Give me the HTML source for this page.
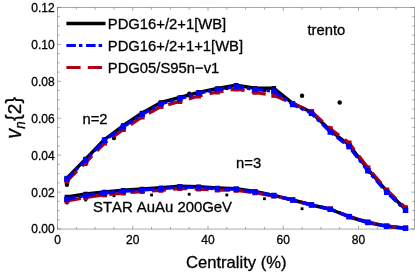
<!DOCTYPE html><html><head><meta charset="utf-8"><style>html,body{margin:0;padding:0;background:#fff}svg{display:block;will-change:transform}text{font-family:"Liberation Sans",sans-serif;fill:#000;font-kerning:none;stroke:#000;stroke-width:0.3px}</style></head><body>
<svg width="415" height="273" viewBox="0 0 415 273">
<rect width="415" height="273" fill="#fff"/>
<rect x="57.5" y="7.45" width="357.0" height="221.60000000000002" fill="none" stroke="#707070" stroke-width="0.6"/>
<path d="M57.50 229.05v-3.4M57.50 7.45v3.4M76.31 229.05v-2.2M76.31 7.45v2.2M95.12 229.05v-2.2M95.12 7.45v2.2M113.94 229.05v-2.2M113.94 7.45v2.2M132.75 229.05v-3.4M132.75 7.45v3.4M151.56 229.05v-2.2M151.56 7.45v2.2M170.38 229.05v-2.2M170.38 7.45v2.2M189.19 229.05v-2.2M189.19 7.45v2.2M208.00 229.05v-3.4M208.00 7.45v3.4M226.81 229.05v-2.2M226.81 7.45v2.2M245.62 229.05v-2.2M245.62 7.45v2.2M264.44 229.05v-2.2M264.44 7.45v2.2M283.25 229.05v-3.4M283.25 7.45v3.4M302.06 229.05v-2.2M302.06 7.45v2.2M320.88 229.05v-2.2M320.88 7.45v2.2M339.69 229.05v-2.2M339.69 7.45v2.2M358.50 229.05v-3.4M358.50 7.45v3.4M377.31 229.05v-2.2M377.31 7.45v2.2M396.12 229.05v-2.2M396.12 7.45v2.2M57.5 229.05h3.4M414.5 229.05h-3.4M57.5 219.82h2.2M414.5 219.82h-2.2M57.5 210.58h2.2M414.5 210.58h-2.2M57.5 201.35h2.2M414.5 201.35h-2.2M57.5 192.12h3.4M414.5 192.12h-3.4M57.5 182.88h2.2M414.5 182.88h-2.2M57.5 173.65h2.2M414.5 173.65h-2.2M57.5 164.42h2.2M414.5 164.42h-2.2M57.5 155.18h3.4M414.5 155.18h-3.4M57.5 145.95h2.2M414.5 145.95h-2.2M57.5 136.72h2.2M414.5 136.72h-2.2M57.5 127.48h2.2M414.5 127.48h-2.2M57.5 118.25h3.4M414.5 118.25h-3.4M57.5 109.02h2.2M414.5 109.02h-2.2M57.5 99.78h2.2M414.5 99.78h-2.2M57.5 90.55h2.2M414.5 90.55h-2.2M57.5 81.32h3.4M414.5 81.32h-3.4M57.5 72.08h2.2M414.5 72.08h-2.2M57.5 62.85h2.2M414.5 62.85h-2.2M57.5 53.62h2.2M414.5 53.62h-2.2M57.5 44.38h3.4M414.5 44.38h-3.4M57.5 35.15h2.2M414.5 35.15h-2.2M57.5 25.92h2.2M414.5 25.92h-2.2M57.5 16.68h2.2M414.5 16.68h-2.2M57.5 7.45h3.4M414.5 7.45h-3.4" stroke="#707070" stroke-width="0.6" fill="none"/>
<text x="54.6" y="233.45" font-size="12" text-anchor="end">0.00</text>
<text x="54.6" y="196.52" font-size="12" text-anchor="end">0.02</text>
<text x="54.6" y="159.58" font-size="12" text-anchor="end">0.04</text>
<text x="54.6" y="122.65" font-size="12" text-anchor="end">0.06</text>
<text x="54.6" y="85.72" font-size="12" text-anchor="end">0.08</text>
<text x="54.6" y="48.78" font-size="12" text-anchor="end">0.10</text>
<text x="54.6" y="11.85" font-size="12" text-anchor="end">0.12</text>
<text x="57.50" y="243.7" font-size="12" text-anchor="middle">0</text>
<text x="132.75" y="243.7" font-size="12" text-anchor="middle">20</text>
<text x="208.00" y="243.7" font-size="12" text-anchor="middle">40</text>
<text x="283.25" y="243.7" font-size="12" text-anchor="middle">60</text>
<text x="358.50" y="243.7" font-size="12" text-anchor="middle">80</text>
<circle cx="66.91" cy="184.8" r="2.2" fill="#000"/>
<circle cx="85.72" cy="163.9" r="2.2" fill="#000"/>
<circle cx="113.94" cy="138" r="2.2" fill="#000"/>
<circle cx="151.56" cy="110.75" r="2.2" fill="#000"/>
<circle cx="189.19" cy="93.75" r="2.2" fill="#000"/>
<circle cx="226.81" cy="88" r="2.2" fill="#000"/>
<circle cx="264.44" cy="90" r="2.2" fill="#000"/>
<circle cx="302.06" cy="95.75" r="2.2" fill="#000"/>
<circle cx="339.69" cy="102.5" r="2.2" fill="#000"/>
<rect x="65.51" y="201.6" width="2.8" height="2.8" fill="#000"/>
<rect x="84.32" y="198.6" width="2.8" height="2.8" fill="#000"/>
<rect x="112.54" y="194.35" width="2.8" height="2.8" fill="#000"/>
<rect x="150.16" y="193.6" width="2.8" height="2.8" fill="#000"/>
<rect x="187.79" y="192.85" width="2.8" height="2.8" fill="#000"/>
<rect x="225.41" y="193.6" width="2.8" height="2.8" fill="#000"/>
<rect x="263.04" y="197.35" width="2.8" height="2.8" fill="#000"/>
<rect x="300.66" y="207.35" width="2.8" height="2.8" fill="#000"/>
<rect x="338.29" y="211.1" width="2.8" height="2.8" fill="#000"/>
<polyline points="66.91,178.10 85.72,159.00 104.53,139.50 123.34,125.50 142.16,113.00 160.97,102.50 179.78,97.50 198.59,92.30 217.41,88.50 236.22,85.30 255.03,88.30 273.84,88.30 292.66,103.30 311.47,112.20 330.28,130.50 349.09,145.00 367.91,169.30 386.72,191.00 405.53,209.30" fill="none" stroke="#000" stroke-width="3.4" stroke-linejoin="round"/>
<rect x="64.66" y="175.85" width="4.5" height="4.5" fill="#000"/><rect x="83.47" y="156.75" width="4.5" height="4.5" fill="#000"/><rect x="102.28" y="137.25" width="4.5" height="4.5" fill="#000"/><rect x="121.09" y="123.25" width="4.5" height="4.5" fill="#000"/><rect x="139.91" y="110.75" width="4.5" height="4.5" fill="#000"/><rect x="158.72" y="100.25" width="4.5" height="4.5" fill="#000"/><rect x="177.53" y="95.25" width="4.5" height="4.5" fill="#000"/><rect x="196.34" y="90.05" width="4.5" height="4.5" fill="#000"/><rect x="215.16" y="86.25" width="4.5" height="4.5" fill="#000"/><rect x="233.97" y="83.05" width="4.5" height="4.5" fill="#000"/><rect x="252.78" y="86.05" width="4.5" height="4.5" fill="#000"/><rect x="271.59" y="86.05" width="4.5" height="4.5" fill="#000"/><rect x="290.41" y="101.05" width="4.5" height="4.5" fill="#000"/><rect x="309.22" y="109.95" width="4.5" height="4.5" fill="#000"/><rect x="328.03" y="128.25" width="4.5" height="4.5" fill="#000"/><rect x="346.84" y="142.75" width="4.5" height="4.5" fill="#000"/><rect x="365.66" y="167.05" width="4.5" height="4.5" fill="#000"/><rect x="384.47" y="188.75" width="4.5" height="4.5" fill="#000"/><rect x="403.28" y="207.05" width="4.5" height="4.5" fill="#000"/>
<polyline points="66.91,181.20 85.72,162.50 104.53,143.00 123.34,129.50 142.16,117.00 160.97,106.50 179.78,101.50 198.59,96.00 217.41,92.00 236.22,89.00 255.03,92.30 273.84,95.30 292.66,103.50 311.47,111.50 330.28,128.70 349.09,143.00 367.91,167.90 386.72,190.00 405.53,207.80" fill="none" stroke="#AD0010" stroke-width="3.3" stroke-dasharray="14.2 7.2" stroke-linejoin="round"/>
<rect x="64.41" y="178.70" width="5" height="5" fill="#AD0010"/><rect x="83.22" y="160.00" width="5" height="5" fill="#AD0010"/><rect x="102.03" y="140.50" width="5" height="5" fill="#AD0010"/><rect x="120.84" y="127.00" width="5" height="5" fill="#AD0010"/><rect x="139.66" y="114.50" width="5" height="5" fill="#AD0010"/><rect x="158.47" y="104.00" width="5" height="5" fill="#AD0010"/><rect x="177.28" y="99.00" width="5" height="5" fill="#AD0010"/><rect x="196.09" y="93.50" width="5" height="5" fill="#AD0010"/><rect x="214.91" y="89.50" width="5" height="5" fill="#AD0010"/><rect x="233.72" y="86.50" width="5" height="5" fill="#AD0010"/><rect x="252.53" y="89.80" width="5" height="5" fill="#AD0010"/><rect x="271.34" y="92.80" width="5" height="5" fill="#AD0010"/><rect x="290.16" y="101.00" width="5" height="5" fill="#AD0010"/><rect x="308.97" y="109.00" width="5" height="5" fill="#AD0010"/><rect x="327.78" y="126.20" width="5" height="5" fill="#AD0010"/><rect x="346.59" y="140.50" width="5" height="5" fill="#AD0010"/><rect x="365.41" y="165.40" width="5" height="5" fill="#AD0010"/><rect x="384.22" y="187.50" width="5" height="5" fill="#AD0010"/><rect x="403.03" y="205.30" width="5" height="5" fill="#AD0010"/>
<polyline points="66.91,179.10 85.72,160.00 104.53,140.50 123.34,126.75 142.16,114.25 160.97,103.75 179.78,98.75 198.59,93.25 217.41,89.50 236.22,86.50 255.03,89.50 273.84,91.10 292.66,104.50 311.47,113.30 330.28,132.00 349.09,146.60 367.91,170.80 386.72,192.30 405.53,210.30" fill="none" stroke="#0000FF" stroke-width="3.3" stroke-dasharray="9.5 3 3.5 3.7" stroke-linejoin="round"/>
<rect x="64.16" y="176.35" width="5.5" height="5.5" fill="#0000FF"/><rect x="82.97" y="157.25" width="5.5" height="5.5" fill="#0000FF"/><rect x="101.78" y="137.75" width="5.5" height="5.5" fill="#0000FF"/><rect x="120.59" y="124.00" width="5.5" height="5.5" fill="#0000FF"/><rect x="139.41" y="111.50" width="5.5" height="5.5" fill="#0000FF"/><rect x="158.22" y="101.00" width="5.5" height="5.5" fill="#0000FF"/><rect x="177.03" y="96.00" width="5.5" height="5.5" fill="#0000FF"/><rect x="195.84" y="90.50" width="5.5" height="5.5" fill="#0000FF"/><rect x="214.66" y="86.75" width="5.5" height="5.5" fill="#0000FF"/><rect x="233.47" y="83.75" width="5.5" height="5.5" fill="#0000FF"/><rect x="252.28" y="86.75" width="5.5" height="5.5" fill="#0000FF"/><rect x="271.09" y="88.35" width="5.5" height="5.5" fill="#0000FF"/><rect x="289.91" y="101.75" width="5.5" height="5.5" fill="#0000FF"/><rect x="308.72" y="110.55" width="5.5" height="5.5" fill="#0000FF"/><rect x="327.53" y="129.25" width="5.5" height="5.5" fill="#0000FF"/><rect x="346.34" y="143.85" width="5.5" height="5.5" fill="#0000FF"/><rect x="365.16" y="168.05" width="5.5" height="5.5" fill="#0000FF"/><rect x="383.97" y="189.55" width="5.5" height="5.5" fill="#0000FF"/><rect x="402.78" y="207.55" width="5.5" height="5.5" fill="#0000FF"/>
<polyline points="66.91,197.00 85.72,194.00 104.53,192.00 123.34,190.30 142.16,189.00 160.97,187.80 179.78,186.30 198.59,186.80 217.41,188.00 236.22,188.80 255.03,191.50 273.84,195.30 292.66,200.00 311.47,205.00 330.28,209.25 349.09,216.75 367.91,222.50 386.72,226.25 405.53,228.25" fill="none" stroke="#000" stroke-width="3.4" stroke-linejoin="round"/>
<rect x="64.66" y="194.75" width="4.5" height="4.5" fill="#000"/><rect x="83.47" y="191.75" width="4.5" height="4.5" fill="#000"/><rect x="102.28" y="189.75" width="4.5" height="4.5" fill="#000"/><rect x="121.09" y="188.05" width="4.5" height="4.5" fill="#000"/><rect x="139.91" y="186.75" width="4.5" height="4.5" fill="#000"/><rect x="158.72" y="185.55" width="4.5" height="4.5" fill="#000"/><rect x="177.53" y="184.05" width="4.5" height="4.5" fill="#000"/><rect x="196.34" y="184.55" width="4.5" height="4.5" fill="#000"/><rect x="215.16" y="185.75" width="4.5" height="4.5" fill="#000"/><rect x="233.97" y="186.55" width="4.5" height="4.5" fill="#000"/><rect x="252.78" y="189.25" width="4.5" height="4.5" fill="#000"/><rect x="271.59" y="193.05" width="4.5" height="4.5" fill="#000"/><rect x="290.41" y="197.75" width="4.5" height="4.5" fill="#000"/><rect x="309.22" y="202.75" width="4.5" height="4.5" fill="#000"/><rect x="328.03" y="207.00" width="4.5" height="4.5" fill="#000"/><rect x="346.84" y="214.50" width="4.5" height="4.5" fill="#000"/><rect x="365.66" y="220.25" width="4.5" height="4.5" fill="#000"/><rect x="384.47" y="224.00" width="4.5" height="4.5" fill="#000"/><rect x="403.28" y="226.00" width="4.5" height="4.5" fill="#000"/>
<polyline points="66.91,201.00 85.72,197.30 104.53,194.80 123.34,193.00 142.16,191.50 160.97,190.30 179.78,188.50 198.59,189.00 217.41,190.00 236.22,190.30 255.03,192.80 273.84,196.00 292.66,200.00 311.47,204.70 330.28,209.00 349.09,216.30 367.91,222.00 386.72,226.00 405.53,228.00" fill="none" stroke="#AD0010" stroke-width="3.3" stroke-dasharray="14.2 7.2" stroke-linejoin="round"/>
<rect x="64.41" y="198.50" width="5" height="5" fill="#AD0010"/><rect x="83.22" y="194.80" width="5" height="5" fill="#AD0010"/><rect x="102.03" y="192.30" width="5" height="5" fill="#AD0010"/><rect x="120.84" y="190.50" width="5" height="5" fill="#AD0010"/><rect x="139.66" y="189.00" width="5" height="5" fill="#AD0010"/><rect x="158.47" y="187.80" width="5" height="5" fill="#AD0010"/><rect x="177.28" y="186.00" width="5" height="5" fill="#AD0010"/><rect x="196.09" y="186.50" width="5" height="5" fill="#AD0010"/><rect x="214.91" y="187.50" width="5" height="5" fill="#AD0010"/><rect x="233.72" y="187.80" width="5" height="5" fill="#AD0010"/><rect x="252.53" y="190.30" width="5" height="5" fill="#AD0010"/><rect x="271.34" y="193.50" width="5" height="5" fill="#AD0010"/><rect x="290.16" y="197.50" width="5" height="5" fill="#AD0010"/><rect x="308.97" y="202.20" width="5" height="5" fill="#AD0010"/><rect x="327.78" y="206.50" width="5" height="5" fill="#AD0010"/><rect x="346.59" y="213.80" width="5" height="5" fill="#AD0010"/><rect x="365.41" y="219.50" width="5" height="5" fill="#AD0010"/><rect x="384.22" y="223.50" width="5" height="5" fill="#AD0010"/><rect x="403.03" y="225.50" width="5" height="5" fill="#AD0010"/>
<polyline points="66.91,199.25 85.72,195.50 104.53,193.00 123.34,191.25 142.16,190.00 160.97,188.75 179.78,187.00 198.59,187.50 217.41,188.75 236.22,189.25 255.03,192.00 273.84,195.50 292.66,200.00 311.47,205.00 330.28,209.25 349.09,216.75 367.91,222.50 386.72,226.25 405.53,228.25" fill="none" stroke="#0000FF" stroke-width="3.3" stroke-dasharray="9.5 3 3.5 3.7" stroke-linejoin="round"/>
<rect x="64.16" y="196.50" width="5.5" height="5.5" fill="#0000FF"/><rect x="82.97" y="192.75" width="5.5" height="5.5" fill="#0000FF"/><rect x="101.78" y="190.25" width="5.5" height="5.5" fill="#0000FF"/><rect x="120.59" y="188.50" width="5.5" height="5.5" fill="#0000FF"/><rect x="139.41" y="187.25" width="5.5" height="5.5" fill="#0000FF"/><rect x="158.22" y="186.00" width="5.5" height="5.5" fill="#0000FF"/><rect x="177.03" y="184.25" width="5.5" height="5.5" fill="#0000FF"/><rect x="195.84" y="184.75" width="5.5" height="5.5" fill="#0000FF"/><rect x="214.66" y="186.00" width="5.5" height="5.5" fill="#0000FF"/><rect x="233.47" y="186.50" width="5.5" height="5.5" fill="#0000FF"/><rect x="252.28" y="189.25" width="5.5" height="5.5" fill="#0000FF"/><rect x="271.09" y="192.75" width="5.5" height="5.5" fill="#0000FF"/><rect x="289.91" y="197.25" width="5.5" height="5.5" fill="#0000FF"/><rect x="308.72" y="202.25" width="5.5" height="5.5" fill="#0000FF"/><rect x="327.53" y="206.50" width="5.5" height="5.5" fill="#0000FF"/><rect x="346.34" y="214.00" width="5.5" height="5.5" fill="#0000FF"/><rect x="365.16" y="219.75" width="5.5" height="5.5" fill="#0000FF"/><rect x="383.97" y="223.50" width="5.5" height="5.5" fill="#0000FF"/><rect x="402.78" y="225.50" width="5.5" height="5.5" fill="#0000FF"/>
<line x1="66.4" y1="23.6" x2="105.5" y2="23.6" stroke="#000" stroke-width="3.5"/>
<line x1="66.4" y1="45.5" x2="105.5" y2="45.5" stroke="#0000FF" stroke-width="3" stroke-dasharray="9.5 3 3.5 3.7"/>
<line x1="66.4" y1="67.5" x2="105.5" y2="67.5" stroke="#AD0010" stroke-width="3" stroke-dasharray="14.2 7.2"/>
<text x="107.8" y="28.7" font-size="14.8">PDG16+/2+1[WB]</text>
<text x="107.8" y="50.7" font-size="14.8">PDG16+/2+1+1[WB]</text>
<text x="107.8" y="72.7" font-size="14.8">PDG05/S95n−v1</text>
<text x="307.5" y="35.2" font-size="14.8">trento</text>
<text x="82.5" y="123.8" font-size="14.8">n=2</text>
<text x="236.1" y="167.8" font-size="14.8">n=3</text>
<text x="93" y="211.9" font-size="14.9">STAR AuAu 200GeV</text>
<text x="236.3" y="267.7" font-size="16.6" text-anchor="middle">Centrality (%)</text>
<g transform="translate(20.6,138.5) rotate(-90)"><text transform="translate(0,0) scale(1,1.16)" font-size="19" font-style="italic">v</text><text transform="translate(9.7,4.2) scale(1,1.16)" font-size="13.4" font-style="italic">n</text><text transform="translate(17.4,-0.9) scale(1.05,1.08)" font-size="19">{</text><text transform="translate(24.3,0)" font-size="19">2</text><text transform="translate(35.0,-0.9) scale(1.05,1.08)" font-size="19">}</text></g>
</svg></body></html>
